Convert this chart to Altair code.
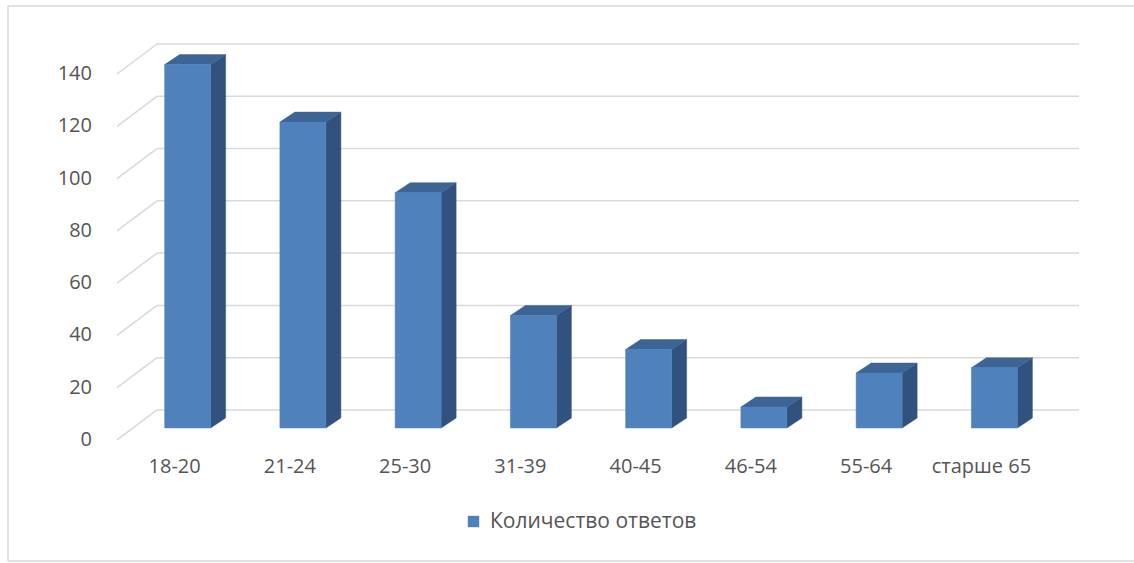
import altair as alt
import pandas as pd

# Survey answers by age group
CATEGORIES = ["18-20", "21-24", "25-30", "31-39", "40-45", "46-54", "55-64", "старше 65"]
COUNTS = [139, 117, 90, 43, 30, 8, 21, 23]
TICKS = [0, 20, 40, 60, 80, 100, 120, 140]
SERIES = "Количество ответов"

# Colours and fonts
FRONT = "#4F81BD"
SIDE = "#31527C"
TOP_FACE = "#3C6596"
GRID = "#D9D9D9"
TEXT = "#555555"
FONT = "Open Sans"
FONT_SIZE = 20

# Pseudo-3D geometry, in pixels
CAT_PX = 115.25          # width of one category slot
UNIT_PX = 2.614          # pixels per answer
WALL = (40, 30)          # depth offset of the back wall
BAR_W = 46               # width of a bar's front face
BAR_FRONT = (13, 12)     # depth offset of a bar's front face
BAR_BACK = (28, 22)      # depth offset of a bar's back face

LEFT, TOP = 117, 44
PLOT_W = len(CATEGORIES) * CAT_PX + WALL[0]
PLOT_H = max(TICKS) * UNIT_PX + WALL[1]


def ux(px):
    return px / CAT_PX


def uy(px):
    return px / UNIT_PX


xs = alt.Scale(domain=[0, ux(PLOT_W)], nice=False, zero=False)
ys = alt.Scale(domain=[0, uy(PLOT_H)], nice=False, zero=False)

# Tables derived from the arrays above
bars, side, top = [], [], []
ddx = ux(BAR_BACK[0] - BAR_FRONT[0])
ddy = uy(BAR_BACK[1] - BAR_FRONT[1])
for i, (cat, v) in enumerate(zip(CATEGORIES, COUNTS)):
    centre = i + 0.5
    xl = centre + ux(BAR_FRONT[0]) - ux(BAR_W) / 2
    xr = xl + ux(BAR_W)
    y0 = uy(BAR_FRONT[1])
    y1 = y0 + v
    bars.append(dict(cat=cat, series=SERIES, centre=centre, xl=xl, xr=xr, y0=y0, y1=y1))
    side.append(dict(cat=cat, x=xr, hi=y1, lo=y0))
    side.append(dict(cat=cat, x=xr + ddx, hi=y1 + ddy, lo=y0 + ddy))
    top.append(dict(cat=cat, y=y1, xa=xl, xb=xr))
    top.append(dict(cat=cat, y=y1 + ddy, xa=xl + ddx, xb=xr + ddx))

bars_df = pd.DataFrame(bars)
side_df = pd.DataFrame(side)
top_df = pd.DataFrame(top)
ticks_df = pd.DataFrame({"tick": TICKS, "back": [t + uy(WALL[1]) for t in TICKS]})

# Chart-area frame: top, left and bottom edges
frame_style = dict(color=GRID, strokeWidth=1.5)
frame_top = alt.Chart(alt.Data(values=[{}])).mark_rule(**frame_style).encode(
    x=alt.value(8 - LEFT), x2=alt.value(1134 - LEFT), y=alt.value(6 - TOP)
)
frame_bottom = alt.Chart(alt.Data(values=[{}])).mark_rule(**frame_style).encode(
    x=alt.value(8 - LEFT), x2=alt.value(1134 - LEFT), y=alt.value(561 - TOP)
)
frame_left = alt.Chart(alt.Data(values=[{}])).mark_rule(**frame_style).encode(
    x=alt.value(8 - LEFT), y=alt.value(6 - TOP), y2=alt.value(561 - TOP)
)

# Horizontal gridlines on the back wall
grid = alt.Chart(ticks_df).mark_rule(color=GRID, strokeWidth=1.5).encode(
    x=alt.value(WALL[0]), x2=alt.value(PLOT_W),
    y=alt.Y("back:Q", scale=ys, axis=None),
)

# Slanted gridlines on the side wall
diag = alt.Chart(ticks_df).mark_rule(color=GRID, strokeWidth=1.5).encode(
    x=alt.value(0), x2=alt.value(WALL[0]),
    y=alt.Y("tick:Q", scale=ys, axis=None), y2="back:Q",
)

side_faces = alt.Chart(side_df).mark_area(
    orient="vertical", color=SIDE, stroke=SIDE, strokeWidth=0.5
).encode(
    x=alt.X("x:Q", scale=xs, axis=None),
    y=alt.Y("hi:Q", scale=ys, axis=None, stack=None),
    y2="lo:Q",
    detail="cat:N",
)

top_faces = alt.Chart(top_df).mark_area(
    orient="horizontal", color=TOP_FACE, stroke=TOP_FACE, strokeWidth=0.5
).encode(
    y=alt.Y("y:Q", scale=ys, axis=None),
    x=alt.X("xa:Q", scale=xs, axis=None, stack=None),
    x2="xb:Q",
    detail="cat:N",
)

front_faces = alt.Chart(bars_df).mark_rect(stroke=FRONT, strokeWidth=0.5).encode(
    x=alt.X("xl:Q", scale=xs, axis=None), x2="xr:Q",
    y=alt.Y("y0:Q", scale=ys, axis=None), y2="y1:Q",
    color=alt.Color(
        "series:N",
        scale=alt.Scale(range=[FRONT]),
        legend=alt.Legend(
            title=None, orient="none", legendX=346, legendY=467,
            symbolType="square", symbolSize=130, symbolStrokeWidth=0,
            labelFont=FONT, labelFontSize=FONT_SIZE + 1, labelColor=TEXT,
            labelOffset=6, labelLimit=0,
        ),
    ),
)

y_labels = alt.Chart(ticks_df).mark_text(
    align="right", baseline="middle", dx=-25,
    font=FONT, fontSize=FONT_SIZE, color=TEXT,
).encode(
    x=alt.value(0),
    y=alt.Y("tick:Q", scale=ys, axis=None),
    text="tick:Q",
)

x_labels = alt.Chart(bars_df).mark_text(
    align="center", baseline="middle",
    font=FONT, fontSize=FONT_SIZE, color=TEXT,
).encode(
    x=alt.X("centre:Q", scale=xs, axis=None),
    y=alt.value(PLOT_H + 27),
    text="cat:N",
)

chart = alt.layer(
    frame_top, frame_bottom, frame_left, grid, diag,
    side_faces, top_faces, front_faces, y_labels, x_labels
).properties(
    width=PLOT_W,
    height=PLOT_H,
    autosize=alt.AutoSizeParams(type="none"),
    padding={"left": LEFT, "top": TOP, "right": 1134 - LEFT - PLOT_W, "bottom": 563 - TOP - PLOT_H},
).configure_view(strokeWidth=0)

chart.save("out.html", embed_options={"renderer": "svg", "actions": False})
